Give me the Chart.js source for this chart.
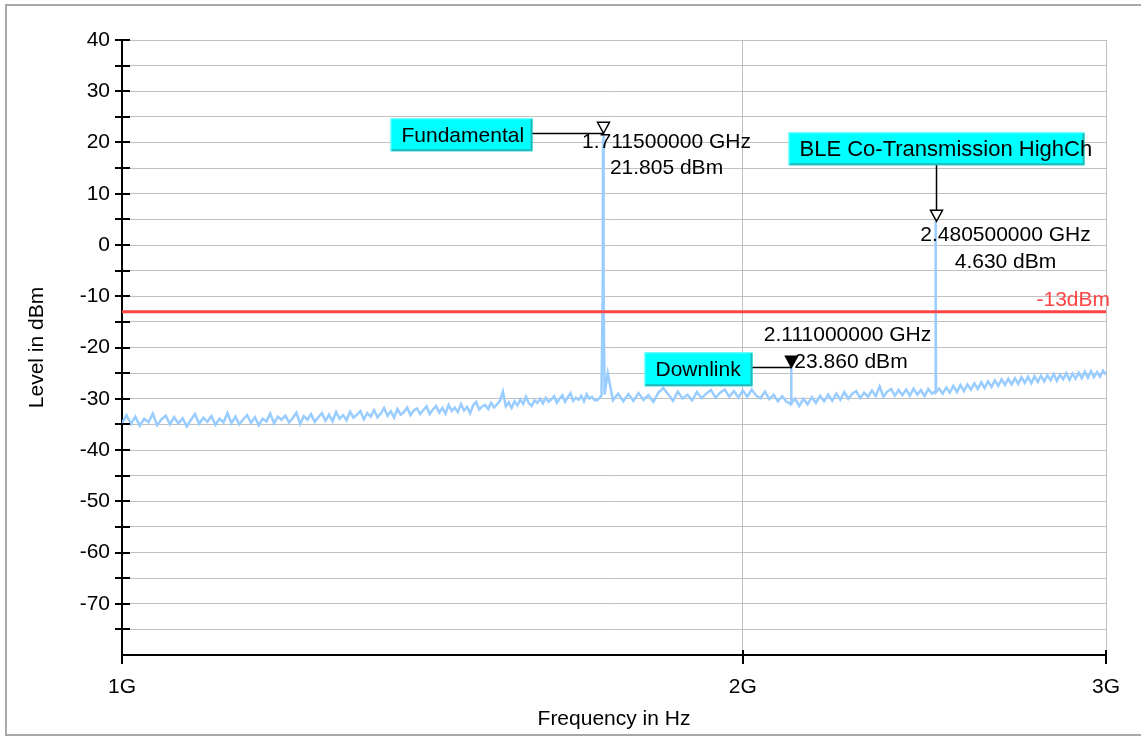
<!DOCTYPE html>
<html><head><meta charset="utf-8">
<script src="https://cdn.jsdelivr.net/npm/chart.js@4/dist/chart.umd.min.js"></script>
<style>html,body{margin:0;padding:0;background:#fff;} #wrap{position:relative;width:1141px;height:738px;}</style>
</head><body><div id="wrap"><canvas id="c"></canvas></div>
<script>
// ---------- data ----------
const freqGHz = [
  1.000,1.005,1.010,1.015,1.020,1.025,1.030,1.035,1.040,1.045,1.050,1.055,1.060,1.065,1.070,1.075,1.080,1.085,1.090,1.095,
  1.100,1.105,1.110,1.115,1.120,1.125,1.130,1.135,1.140,1.145,1.150,1.155,1.160,1.165,1.170,1.175,1.180,1.185,1.190,1.195,
  1.200,1.205,1.210,1.215,1.220,1.225,1.230,1.235,1.240,1.245,1.250,1.255,1.260,1.265,1.270,1.275,1.280,1.285,1.290,1.295,
  1.300,1.305,1.310,1.315,1.320,1.325,1.330,1.335,1.340,1.345,1.350,1.355,1.360,1.365,1.370,1.375,1.380,1.385,1.390,1.395,
  1.400,1.405,1.410,1.415,1.420,1.425,1.430,1.435,1.440,1.445,1.450,1.455,1.460,1.465,1.470,1.475,1.480,1.485,1.490,1.495,
  1.500,1.505,1.510,1.515,1.520,1.525,1.530,1.535,1.540,1.545,1.550,1.555,1.560,1.565,1.570,1.575,1.580,1.585,1.590,1.595,
  1.600,1.605,1.610,1.615,1.620,1.625,1.630,1.635,1.640,1.645,1.650,1.655,1.660,1.665,1.670,1.675,1.680,1.685,1.690,1.695,
  1.70,1.708,1.7105,1.711,1.7115,1.712,1.7125,1.714,
  1.72,1.73,1.74,1.75,1.76,1.77,1.78,1.79,
  1.80,1.81,1.82,1.83,1.84,1.85,1.86,1.87,1.88,1.89,
  1.90,1.91,1.92,1.93,1.94,1.95,1.96,1.97,1.98,1.99,
  2.00,2.01,2.02,2.03,2.04,2.05,2.06,2.07,2.08,2.09,
  2.10,2.1105,2.111,2.1115,
  2.12,2.13,2.14,2.15,2.16,2.17,2.18,2.19,
  2.20,2.21,2.22,2.23,2.24,2.25,2.26,2.27,2.28,2.29,
  2.30,2.31,2.32,2.33,2.34,2.35,2.36,2.37,2.38,2.39,
  2.40,2.41,2.42,2.43,2.44,2.45,2.46,2.47,
  2.4795,2.48,2.4805,2.481,2.4815,
  2.49,
  2.50,2.51,2.52,2.53,2.54,2.55,2.56,2.57,2.58,2.59,
  2.60,2.61,2.62,2.63,2.64,2.65,2.66,2.67,2.68,2.69,
  2.70,2.71,2.72,2.73,2.74,2.75,2.76,2.77,2.78,2.79,
  2.80,2.81,2.82,2.83,2.84,2.85,2.86,2.87,2.88,2.89,
  2.90,2.91,2.92,2.93,2.94,2.95,2.96,2.97,2.98,2.99,
  3.00
];
const levelDbm = [
  -34.8,-33.2,-34.9,-33.5,-35.3,-33.9,-34.6,-32.9,-35.2,-34.0,-33.3,-35.0,-33.6,-34.8,-33.8,-35.4,-34.1,-33.0,-34.9,-33.7,
  -34.5,-33.4,-35.1,-33.9,-34.6,-32.8,-34.8,-33.5,-35.0,-34.0,-33.2,-34.7,-33.6,-35.2,-33.9,-34.4,-32.9,-34.8,-33.5,-34.1,
  -33.3,-34.6,-33.8,-32.7,-34.9,-33.4,-34.1,-33.0,-34.5,-33.6,-32.8,-34.3,-33.1,-34.4,-32.6,-33.9,-33.2,-34.2,-32.5,-33.7,
  -33.1,-32.4,-34.0,-32.8,-33.5,-32.2,-33.6,-32.9,-31.8,-33.3,-32.4,-33.7,-32.0,-33.1,-32.6,-31.7,-33.2,-32.3,-31.9,-33.0,
  -32.2,-31.5,-33.0,-32.1,-31.4,-32.7,-31.8,-32.9,-31.2,-32.4,-31.7,-32.6,-31.0,-32.3,-31.6,-32.8,-31.3,-30.6,-32.1,-31.5,
  -31.2,-32.0,-30.8,-31.7,-31.1,-30.4,-28.6,-31.5,-30.7,-31.8,-30.5,-31.3,-30.2,-31.0,-29.6,-30.9,-31.4,-30.3,-30.8,-30.0,
  -30.9,-29.8,-30.6,-30.1,-29.5,-30.8,-30.0,-29.3,-30.6,-29.7,-28.9,-30.4,-29.8,-30.2,-29.4,-30.5,-29.1,-30.0,-29.6,-30.3,
  -30.3,-29.4,-7.0,20.6,21.805,20.4,-9.0,-29.2,
  -25.0,-30.3,-29.0,-30.5,-29.1,-30.4,-28.9,-30.2,
  -29.3,-30.6,-28.8,-27.9,-29.1,-30.4,-28.6,-30.0,-29.2,-30.3,
  -28.7,-29.9,-29.0,-28.3,-29.8,-28.8,-28.2,-29.6,-28.5,-29.7,
  -28.4,-29.6,-28.2,-29.4,-29.9,-28.6,-30.1,-29.2,-30.5,-29.5,
  -30.6,-31.0,-23.86,-30.9,
  -30.0,-31.4,-30.0,-31.1,-29.7,-30.8,-29.4,-30.5,
  -29.2,-30.4,-29.0,-30.2,-28.7,-30.0,-29.0,-28.5,-29.9,-28.8,
  -29.6,-28.4,-29.5,-27.6,-29.6,-28.6,-28.1,-29.4,-28.3,-29.3,
  -28.2,-29.4,-28.0,-29.2,-28.3,-29.5,-28.1,-29.0,
  -28.6,-9.0,4.63,-9.5,-28.7,
  -28.0,
  -29.0,-27.8,-28.8,-27.5,-28.7,-27.3,-28.5,-27.2,-28.2,-27.0,
  -28.1,-26.8,-27.9,-26.6,-27.7,-26.4,-27.5,-26.2,-27.3,-26.1,
  -27.2,-26.0,-27.1,-25.8,-26.9,-25.7,-27.0,-25.6,-26.7,-25.5,
  -26.6,-25.4,-26.4,-25.2,-26.5,-25.3,-26.2,-25.0,-26.3,-25.1,
  -26.1,-24.9,-26.0,-24.7,-25.9,-24.6,-25.8,-24.8,-25.7,-24.5,
  -25.3
];
const xTickValues = [1, 2, 3];
const xTickLabels = ['1G', '2G', '3G'];
const yMin = -80, yMax = 40, yStep = 5;
const limitLevel = -13;
const limitLabel = '-13dBm';
const markerNames = ['Fundamental', 'BLE Co-Transmission HighCh', 'Downlink'];
const markerFreqGHz = [1.7115, 2.4805, 2.111];
const markerLevel = [21.805, 4.630, -23.860];
const markerFreqText = ['1.711500000 GHz', '2.480500000 GHz', '2.111000000 GHz'];
const markerLevelText = ['21.805 dBm', '4.630 dBm', '-23.860 dBm'];
const markerFilled = [false, false, true];

// ---------- style ----------
const FONT = "'Liberation Sans', Arial, sans-serif";
const FS = 21;
// box: [dx, dy, w, h] relative to marker apex; text: [dx, dy1, dy2]
const calloutLayout = [
  {box: [-213, -15, 142, 33], leader: 'h', text: [63, 9, 35], fs: 21},
  {box: [-148, -89, 296, 33], leader: 'v', text: [69, 14, 41], fs: 22},
  {box: [-147, -15, 108, 34], leader: 'h', text: [56, -32, -5], fs: 21}
];

const tracePoints = freqGHz.map((f, i) => ({x: f, y: levelDbm[i]}));
const limitPoints = [{x: xTickValues[0], y: limitLevel}, {x: xTickValues[xTickValues.length - 1], y: limitLevel}];

const overlay = {
  id: 'overlay',
  beforeDraw(chart) {
    const ctx = chart.ctx;
    ctx.save();
    ctx.fillStyle = '#fff';
    ctx.fillRect(0, 0, chart.width, chart.height);
    ctx.strokeStyle = '#a8a8a8';
    ctx.lineWidth = 2;
    ctx.strokeRect(6, 5, chart.width + 20, 730);
    ctx.restore();
  },
  afterDatasetsDraw(chart) {
    const ctx = chart.ctx;
    const xs = chart.scales.x, ys = chart.scales.y;
    const ca = chart.chartArea;
    ctx.save();
    ctx.font = FS + 'px ' + FONT;
    ctx.fillStyle = '#ff4444';
    ctx.textAlign = 'right';
    ctx.textBaseline = 'middle';
    ctx.fillText(limitLabel, ca.right + 4, ys.getPixelForValue(limitLevel) - 11);

    markerNames.forEach((name, i) => {
      const px = Math.round(xs.getPixelForValue(markerFreqGHz[i])) + 0.5;
      const py = ys.getPixelForValue(markerLevel[i]);
      const L = calloutLayout[i];
      ctx.fillStyle = '#000';
      ctx.textAlign = 'center';
      ctx.textBaseline = 'middle';
      ctx.font = FS + 'px ' + FONT;
      ctx.fillText(markerFreqText[i], px + L.text[0], py + L.text[1]);
      ctx.fillText(markerLevelText[i], px + L.text[0], py + L.text[2]);
      const bx = px + L.box[0], by = py + L.box[1], bw = L.box[2], bh = L.box[3];
      ctx.fillStyle = '#00ffff';
      ctx.fillRect(bx, by, bw, bh);
      ctx.strokeStyle = '#7fffff';
      ctx.lineWidth = 1;
      ctx.beginPath();
      ctx.moveTo(bx + 0.5, by + bh); ctx.lineTo(bx + 0.5, by + 0.5); ctx.lineTo(bx + bw, by + 0.5);
      ctx.stroke();
      ctx.strokeStyle = '#22b8b8';
      ctx.lineWidth = 2;
      ctx.beginPath();
      ctx.moveTo(bx + 1, by + bh - 1); ctx.lineTo(bx + bw - 1, by + bh - 1); ctx.lineTo(bx + bw - 1, by + 1);
      ctx.stroke();
      ctx.fillStyle = '#000';
      ctx.textAlign = 'left';
      ctx.font = L.fs + 'px ' + FONT;
      ctx.fillText(name, bx + 11, by + bh / 2 + 1);
      ctx.strokeStyle = '#000';
      ctx.lineWidth = 1.5;
      ctx.beginPath();
      if (L.leader === 'h') {
        ctx.moveTo(bx + bw, Math.round(py) + 0.5);
        ctx.lineTo(px, Math.round(py) + 0.5);
      } else {
        ctx.moveTo(px, by + bh);
        ctx.lineTo(px, py - 11);
      }
      ctx.stroke();
      ctx.beginPath();
      ctx.moveTo(px, py);
      ctx.lineTo(px - 6, py - 11);
      ctx.lineTo(px + 6, py - 11);
      ctx.closePath();
      if (markerFilled[i]) { ctx.fillStyle = '#000'; ctx.fill(); }
      ctx.lineWidth = 1.5;
      ctx.stroke();
    });
    ctx.restore();
  },
  afterDraw(chart) {
    const ctx = chart.ctx;
    const xs = chart.scales.x, ys = chart.scales.y;
    const ca = chart.chartArea;
    ctx.save();
    ctx.strokeStyle = '#000';
    ctx.lineWidth = 2;
    ctx.beginPath();
    ys.ticks.forEach(t => {
      if (t.value === yMin) return;
      const p = Math.round(ys.getPixelForValue(t.value));
      ctx.moveTo(ca.left - 7, p); ctx.lineTo(ca.left + 8, p);
    });
    xTickValues.forEach(v => {
      const p = Math.round(xs.getPixelForValue(v));
      ctx.moveTo(p, ca.bottom - (v === xTickValues[0] ? 0 : 5)); ctx.lineTo(p, ca.bottom + 9);
    });
    ctx.stroke();
    ctx.restore();
  }
};

new Chart(document.getElementById('c'), {
  type: 'line',
  data: {
    datasets: [
      {label: 'Limit', data: limitPoints, borderColor: '#ff4444', borderWidth: 3, pointRadius: 0, fill: false},
      {label: 'Trace', data: tracePoints, borderColor: '#99ccff', borderWidth: 2.5, pointRadius: 0, fill: false, tension: 0}
    ]
  },
  options: {
    responsive: true,
    maintainAspectRatio: false,
    animation: false,
    events: [],
    layout: {padding: {left: 0, top: 40, right: 35, bottom: 0}},
    plugins: {legend: {display: false}, tooltip: {enabled: false}},
    scales: {
      x: {
        type: 'logarithmic',
        min: xTickValues[0],
        max: xTickValues[xTickValues.length - 1],
        afterBuildTicks: s => { s.ticks = xTickValues.map(v => ({value: v})); },
        afterFit: s => { s.height = 83; },
        ticks: {
          autoSkip: false, maxRotation: 0, padding: 20, color: '#000',
          font: {family: FONT, size: FS},
          callback: (v) => { const i = xTickValues.indexOf(v); return i >= 0 ? xTickLabels[i] : ''; }
        },
        grid: {color: '#c0c0c0', lineWidth: 1, drawTicks: false},
        border: {color: '#000', width: 2},
        title: {display: true, text: 'Frequency in Hz', color: '#000', font: {family: FONT, size: FS}, padding: {top: 0, bottom: 6}}
      },
      y: {
        min: yMin, max: yMax,
        afterFit: s => { s.width = 122; },
        ticks: {
          stepSize: yStep, padding: 12, color: '#000', autoSkip: false,
          font: {family: FONT, size: FS},
          callback: (v) => (v % 10 === 0 && v !== yMin) ? String(v) : ''
        },
        grid: {color: '#c0c0c0', lineWidth: 1, drawTicks: false},
        border: {color: '#000', width: 2},
        title: {display: true, text: 'Level in dBm', color: '#000', font: {family: FONT, size: FS}, padding: {top: 25, bottom: 0}}
      }
    }
  },
  plugins: [overlay]
});
</script>
</body></html>
